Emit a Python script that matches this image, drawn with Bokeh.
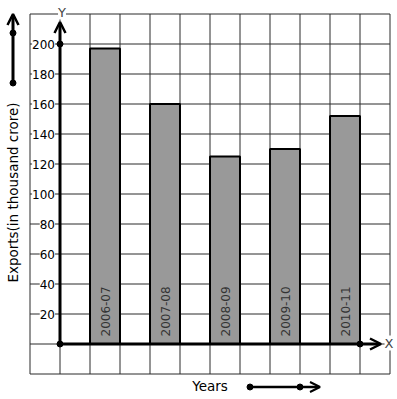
import numpy as np
from bokeh.plotting import figure
from bokeh.models import Range1d, Arrow, OpenHead, LabelSet, Label, ColumnDataSource
from bokeh.core.properties import value
from bokeh.embed import file_html
from bokeh.resources import INLINE

# ---- data ----
years = ["2006-07", "2007-08", "2008-09", "2009-10", "2010-11"]
exports = [197, 160, 125, 130, 152]
y_ticks = [20, 40, 60, 80, 100, 120, 140, 160, 180, 200]
x_title = "Years"
y_title = "Exports(in thousand crore)"

FONT = "DejaVu Sans"
W, H = 397, 399
PX, PY = 30.0, 1.5          # pixels per grid column / per export unit
OX, OY = 59 + 0.5, 343 + 0.5   # origin position inside the figure


def dx(px):  # picture pixel -> data x (decorations only)
    return (px - 59) / PX


def dy(py):  # picture pixel -> data y (decorations only)
    return (343 - py) / PY


p = figure(width=W, height=H, output_backend="svg", toolbar_location=None,
           x_range=Range1d(-OX / PX, (W - OX) / PX),
           y_range=Range1d((OY - H) / PY, OY / PY),
           min_border=0, min_border_left=0, min_border_right=0,
           min_border_top=0, min_border_bottom=0)
p.axis.visible = False
p.grid.visible = False
p.outline_line_color = None
p.background_fill_color = "white"
p.border_fill_color = "white"

# ---- graph paper grid ----
gx = np.arange(-1, 12)
gy = np.arange(-20, 240, 20)
p.segment(x0=gx, y0=-20, x1=gx, y1=220, line_color="#2a2a2a", line_width=1)
p.segment(x0=-1, y0=gy, x1=11, y1=gy, line_color="#2a2a2a", line_width=1)

# ---- bars ----
bar_x = [1.5 + 2 * i for i in range(len(years))]
src = ColumnDataSource(dict(x=bar_x, top=exports, year=years))
p.vbar(x="x", top="top", bottom=0, width=1, source=src,
       fill_color="#999999", line_color="black", line_width=2)
p.text(x="x", y=5, text="year", source=src, angle=np.pi / 2,
       text_align="left", text_baseline="middle",
       text_font=value(FONT), text_font_size="12px", text_color="#333333")

# ---- axes ----
p.add_layout(Arrow(x_start=0, y_start=0, x_end=0, y_end=dy(21),
                   line_width=3, line_color="black",
                   end=OpenHead(size=11, line_width=2.5, line_color="black")))
p.add_layout(Arrow(x_start=0, y_start=0, x_end=dx(380), y_end=0,
                   line_width=3, line_color="black",
                   end=OpenHead(size=11, line_width=2.5, line_color="black")))
p.scatter(x=[0, 0, 10], y=[0, 200, 0], size=6, color="black")

tsrc = ColumnDataSource(dict(y=y_ticks, t=[str(v) for v in y_ticks]))
p.add_layout(LabelSet(x=dx(54), y="y", text="t", source=tsrc,
                      text_align="right", text_baseline="middle",
                      text_font=value(FONT), text_font_size="12px",
                      text_color="black", background_fill_color="white"))

p.add_layout(Label(x=dx(61), y=dy(11), text="Y", text_align="center",
                   text_baseline="middle", text_font=FONT,
                   text_font_size="13px", background_fill_color="white"))
p.add_layout(Label(x=dx(388), y=dy(342), text="X", text_align="center",
                   text_baseline="middle", text_font=FONT,
                   text_font_size="13px", background_fill_color="white"))

# ---- titles ----
p.add_layout(Label(x=dx(12), y=dy(191.5), text=y_title, angle=np.pi / 2,
                   text_align="center", text_baseline="middle", text_font=FONT,
                   text_font_size="13.5px", text_color="black"))
p.add_layout(Label(x=dx(209), y=dy(385), text=x_title, text_align="center",
                   text_baseline="middle", text_font=FONT,
                   text_font_size="13.5px", text_color="black"))

# ---- decorative arrows ----
p.add_layout(Arrow(x_start=dx(12), y_start=dy(82), x_end=dx(12), y_end=dy(13),
                   line_width=3, line_color="black",
                   end=OpenHead(size=11, line_width=2.5, line_color="black")))
p.scatter(x=[dx(12), dx(12)], y=[dy(32), dy(82)], size=6, color="black")
p.add_layout(Arrow(x_start=dx(249), y_start=dy(386), x_end=dx(319), y_end=dy(386),
                   line_width=2.5, line_color="black",
                   end=OpenHead(size=10, line_width=2, line_color="black")))
p.scatter(x=[dx(249), dx(299)], y=[dy(386), dy(386)], size=6, color="black")

open("out.html", "w").write(file_html(p, INLINE))
